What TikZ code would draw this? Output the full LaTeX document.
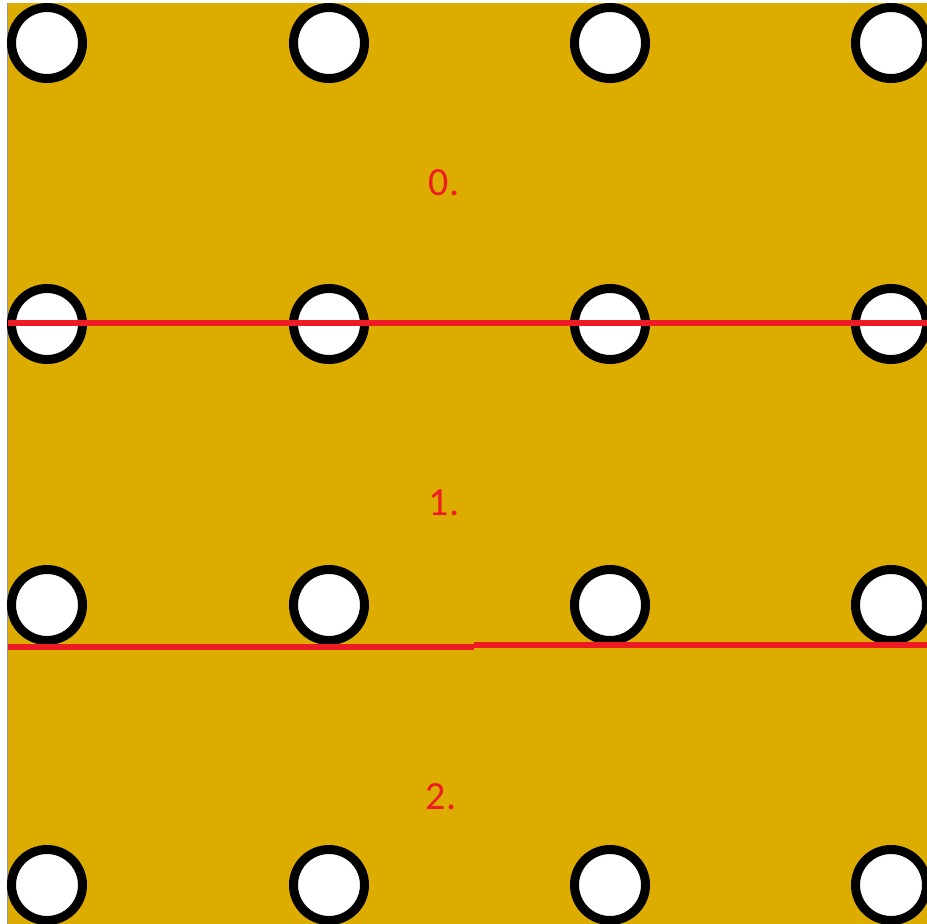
\documentclass[tikz,border=0pt]{standalone}
\usepackage{fontspec}
\setmainfont{Carlito}
\usepackage{xcolor}
\usepackage{tikz}
\definecolor{plate}{RGB}{220,172,0}
\definecolor{cutred}{RGB}{237,28,36}

\begin{document}
\begin{tikzpicture}[x=1pt,y=-1pt]
      \useasboundingbox (0,0) rectangle (927,924);
      \clip (0,0) rectangle (927,924);
      \fill[plate] (7.5,3) rectangle (927,924);
      \draw[black!40,line width=1pt] (7.5,3) -- (7.5,924);
      % holes, row by row
      \foreach \r/\y in {0/43,1/324,2/605,3/885}
        \foreach \c/\x in {0/47,1/329,2/610,3/891}
          \node[circle,draw=black,fill=white,line width=9pt,minimum size=71pt,inner sep=0pt] (h\r\c) at (\x,\y) {};
      % cut lines
      \coordinate (cutA) at (8,322.5);
      \coordinate (cutB) at (927,322.5);
      \coordinate (cutC) at (8,646.5);
      \coordinate (cutD) at (474,646.5);
      \coordinate (cutE) at (474,644.5);
      \coordinate (cutF) at (927,644.5);
      \draw[cutred,line width=6pt] (cutA) -- (cutB);
      \draw[cutred,line width=6pt] (cutC) -- (cutD);
      \draw[cutred,line width=6pt] (cutE) -- (cutF);
      % strip numbers
      \node[text=cutred,inner sep=0pt,font=\fontsize{40}{40}\selectfont] (part0) at (444,183) {0.};
      \node[text=cutred,inner sep=0pt,font=\fontsize{40}{40}\selectfont] (part1) at (444,503) {1.};
      \node[text=cutred,inner sep=0pt,font=\fontsize{40}{40}\selectfont] (part2) at (441,797) {2.};
    \end{tikzpicture}
\end{document}
